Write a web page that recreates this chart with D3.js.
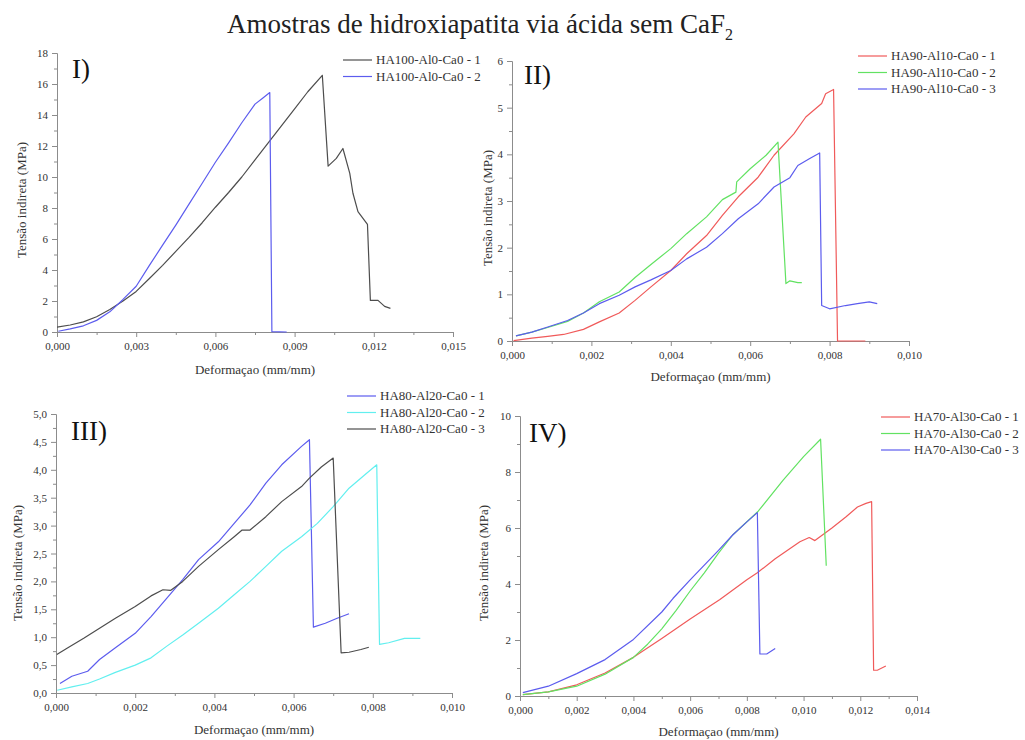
<!DOCTYPE html>
<html>
<head>
<meta charset="utf-8">
<script src="https://cdnjs.cloudflare.com/ajax/libs/d3/7.8.5/d3.min.js"></script>
<style>
    body { margin: 0; background: #fff; }
    svg text { font-family: "Liberation Serif", "Times New Roman", Times, serif !important; fill: #333; }
</style>
</head>
<body>
<div id="chart"></div>
<script>

// Panel I - HA100-Al0-Ca0
var namesI = ["HA100-Al0-Ca0 - 1", "HA100-Al0-Ca0 - 2"];
var ha100_1 = [[0, 0.32], [0.0005, 0.45], [0.001, 0.65], [0.0015, 0.98], [0.002, 1.45], [0.0025, 2.0],
    [0.003, 2.62], [0.0035, 3.45], [0.004, 4.3], [0.0045, 5.2], [0.005, 6.1], [0.0055, 7.05], [0.006, 8.05],
    [0.0065, 9.0], [0.007, 10.0], [0.0075, 11.1], [0.008, 12.2], [0.0085, 13.3], [0.009, 14.4], [0.0095, 15.5],
    [0.01005, 16.56], [0.01027, 10.7], [0.01058, 11.2], [0.01083, 11.84], [0.01109, 10.23], [0.01121, 8.95],
    [0.0114, 7.77], [0.01176, 6.95], [0.01187, 2.04], [0.01216, 2.04], [0.01241, 1.65], [0.01263, 1.52]];
var ha100_2 = [[0.00005, 0.05], [0.0005, 0.2], [0.001, 0.4], [0.0015, 0.75], [0.002, 1.3], [0.0025, 2.1],
    [0.003, 2.95], [0.0035, 4.3], [0.004, 5.6], [0.0045, 6.9], [0.005, 8.25], [0.0055, 9.6], [0.006, 10.95],
    [0.0065, 12.2], [0.007, 13.5], [0.0075, 14.7], [0.0078, 15.1], [0.00806, 15.45], [0.00814, 0.02], [0.0087, 0]];
var xTicksI = [0, 0.003, 0.006, 0.009, 0.012, 0.015];
var yTicksI = [0, 2, 4, 6, 8, 10, 12, 14, 16, 18];

// Panel II - HA90-Al10-Ca0
var namesII = ["HA90-Al10-Ca0 - 1", "HA90-Al10-Ca0 - 2", "HA90-Al10-Ca0 - 3"];
var ha90_1 = [[0.00004, 0.01], [0.0005, 0.06], [0.0009, 0.1], [0.0013, 0.14], [0.0018, 0.25], [0.0022, 0.41],
    [0.0027, 0.6], [0.0031, 0.87], [0.0035, 1.16], [0.004, 1.51], [0.0044, 1.87], [0.0049, 2.26], [0.0053, 2.69],
    [0.0057, 3.09], [0.0062, 3.51], [0.0066, 3.98], [0.0071, 4.44], [0.0074, 4.8], [0.0078, 5.09], [0.0079, 5.3],
    [0.0081, 5.39], [0.0082, 0], [0.0089, 0]];
var ha90_2 = [[0.0001, 0.11], [0.0005, 0.19], [0.0009, 0.29], [0.0014, 0.42], [0.0018, 0.6], [0.0022, 0.84],
    [0.0027, 1.05], [0.0031, 1.36], [0.0035, 1.64], [0.004, 1.98], [0.0044, 2.3], [0.0049, 2.66], [0.0053, 3.03],
    [0.00564, 3.19], [0.00566, 3.41], [0.006, 3.69], [0.0064, 3.98], [0.0067, 4.26], [0.0069, 1.23], [0.007, 1.29],
    [0.0072, 1.25], [0.0073, 1.25]];
var ha90_3 = [[0.0001, 0.11], [0.0005, 0.19], [0.0009, 0.3], [0.0014, 0.44], [0.0018, 0.6], [0.0022, 0.8],
    [0.0027, 0.98], [0.0031, 1.16], [0.0035, 1.31], [0.004, 1.51], [0.0044, 1.76], [0.0049, 2.01], [0.0053, 2.3],
    [0.0057, 2.62], [0.0062, 2.94], [0.0066, 3.3], [0.007, 3.5], [0.0072, 3.76], [0.0075, 3.91], [0.00775, 4.03],
    [0.0078, 0.76], [0.008, 0.69], [0.0084, 0.76], [0.0087, 0.8], [0.009, 0.84], [0.0092, 0.8]];
var xTicksII = [0, 0.002, 0.004, 0.006, 0.008, 0.010];
var yTicksII = [0, 1, 2, 3, 4, 5, 6];

// Panel III - HA80-Al20-Ca0
var namesIII = ["HA80-Al20-Ca0 - 1", "HA80-Al20-Ca0 - 2", "HA80-Al20-Ca0 - 3"];
var ha80_1 = [[0.0001, 0.17], [0.0004, 0.3], [0.0008, 0.39], [0.0011, 0.6], [0.0015, 0.81], [0.002, 1.07],
    [0.0024, 1.37], [0.0028, 1.7], [0.0032, 2.03], [0.0036, 2.39], [0.0041, 2.71], [0.0045, 3.04], [0.0049, 3.37],
    [0.0053, 3.76], [0.0057, 4.09], [0.0062, 4.42], [0.0064, 4.54], [0.0065, 1.18], [0.0068, 1.25], [0.0071, 1.34],
    [0.0074, 1.42]];
var ha80_2 = [[0.00003, 0.05], [0.0004, 0.11], [0.0008, 0.17], [0.0011, 0.25], [0.0015, 0.37], [0.002, 0.5],
    [0.0024, 0.63], [0.0028, 0.84], [0.0032, 1.04], [0.0036, 1.25], [0.0041, 1.52], [0.0045, 1.76], [0.0049, 2.0],
    [0.0053, 2.27], [0.0057, 2.54], [0.0062, 2.8], [0.0066, 3.04], [0.007, 3.34], [0.0074, 3.67], [0.0078, 3.91],
    [0.0081, 4.09], [0.00817, 0.87], [0.0084, 0.9], [0.0088, 0.98], [0.0092, 0.98]];
var ha80_3 = [[0.00002, 0.69], [0.0003, 0.81], [0.0007, 0.98], [0.0011, 1.16], [0.0015, 1.34], [0.002, 1.55],
    [0.0024, 1.74], [0.0027, 1.85], [0.0029, 1.84], [0.0032, 2.0], [0.0036, 2.27], [0.0041, 2.57], [0.0045, 2.8],
    [0.0047, 2.92], [0.0049, 2.92], [0.0053, 3.16], [0.0057, 3.43], [0.0062, 3.7], [0.0064, 3.85], [0.0067, 4.05],
    [0.007, 4.21], [0.0072, 0.72], [0.0074, 0.73], [0.0077, 0.78], [0.0079, 0.82]];
var xTicksIII = [0, 0.002, 0.004, 0.006, 0.008, 0.010];
var yTicksIII = [0, 0.5, 1, 1.5, 2, 2.5, 3, 3.5, 4, 4.5, 5];

// Panel IV - HA70-Al30-Ca0
var namesIV = ["HA70-Al30-Ca0 - 1", "HA70-Al30-Ca0 - 2", "HA70-Al30-Ca0 - 3"];
var ha70_1 = [[0.0001, 0.05], [0.001, 0.15], [0.002, 0.4], [0.003, 0.82], [0.004, 1.38], [0.005, 2.05],
    [0.006, 2.75], [0.00705, 3.45], [0.008, 4.15], [0.00837, 4.4], [0.009, 4.9], [0.00987, 5.51], [0.0102, 5.66],
    [0.0104, 5.55], [0.011, 6.0], [0.0115, 6.4], [0.0119, 6.75], [0.0122, 6.88], [0.0124, 6.94], [0.01247, 0.92],
    [0.0126, 0.92], [0.0129, 1.07]];
var ha70_2 = [[0.0001, 0.05], [0.001, 0.15], [0.002, 0.35], [0.003, 0.78], [0.004, 1.38], [0.0045, 1.85],
    [0.005, 2.4], [0.0055, 3.05], [0.006, 3.75], [0.0065, 4.4], [0.007, 5.1], [0.0075, 5.75], [0.0084, 6.6],
    [0.00928, 7.71], [0.01, 8.55], [0.0106, 9.17], [0.0108, 4.65]];
var ha70_3 = [[0.0001, 0.12], [0.001, 0.35], [0.002, 0.8], [0.003, 1.3], [0.004, 2.02], [0.005, 3.0],
    [0.0054, 3.49], [0.006, 4.15], [0.007, 5.2], [0.0075, 5.75], [0.008, 6.22], [0.00837, 6.55], [0.00846, 1.5],
    [0.0087, 1.5], [0.009, 1.7]];
var xTicksIV = [0, 0.002, 0.004, 0.006, 0.008, 0.010, 0.012, 0.014];
var yTicksIV = [0, 2, 4, 6, 8, 10];

var mainTitle = "Amostras de hidroxiapatita via ácida sem CaF";
var xTitle = "Deformaçao (mm/mm)";
var yTitle = "Tensão indireta (MPa)";

var serif = "'Liberation Serif', 'Times New Roman', Times, serif";

//Origin-like colours
var colBlack = "#4d4d4d",
    colBlue = "#5c5cee",
    colRed = "#f05a5a",
    colGreen = "#62e262",
    colCyan = "#62efef";

//Comma as decimal separator
var locale = d3.formatLocale({decimal: ",", thousands: ".", grouping: [3], currency: ["", ""]});

var panels = [
    {label: "I)", names: namesI, series: [ha100_1, ha100_2], colors: [colBlack, colBlue],
     xTicks: xTicksI, yTicks: yTicksI, xDec: 3, yDec: 0,
     left: 57, right: 453, top: 53, bottom: 332,
     labelPos: [72, 78], legendPos: [343, 60], yTitlePos: [26, 200], xTitleY: 374},
    {label: "II)", names: namesII, series: [ha90_1, ha90_2, ha90_3], colors: [colRed, colGreen, colBlue],
     xTicks: xTicksII, yTicks: yTicksII, xDec: 3, yDec: 0,
     left: 512, right: 909, top: 61, bottom: 341,
     labelPos: [524, 84], legendPos: [858, 56], yTitlePos: [492, 208], xTitleY: 381},
    {label: "III)", names: namesIII, series: [ha80_1, ha80_2, ha80_3], colors: [colBlue, colCyan, colBlack],
     xTicks: xTicksIII, yTicks: yTicksIII, xDec: 3, yDec: 1,
     left: 56, right: 452, top: 414, bottom: 693,
     labelPos: [71, 440], legendPos: [347, 396], yTitlePos: [22, 563], xTitleY: 734},
    {label: "IV)", names: namesIV, series: [ha70_1, ha70_2, ha70_3], colors: [colRed, colGreen, colBlue],
     xTicks: xTicksIV, yTicks: yTicksIV, xDec: 3, yDec: 0,
     left: 520, right: 917, top: 416, bottom: 696,
     labelPos: [529, 442], legendPos: [881, 417], yTitlePos: [488, 563], xTitleY: 736}
];

var svg = d3.select("#chart").append("svg")
    .attr("width", 1025)
    .attr("height", 740)
    .attr("font-family", serif)
    .style("background", "#fff");

//Main title with subscript
var title = svg.append("text")
    .attr("x", 480)
    .attr("y", 33)
    .attr("text-anchor", "middle")
    .style("font-family", serif)
    .style("font-size", "27px")
    .style("fill", "#222")
    .text(mainTitle);
title.append("tspan")
    .attr("dy", 7)
    .style("font-size", "16px")
    .text("2");

panels.forEach(drawPanel);

function drawPanel(p) {

    var xMax = p.xTicks[p.xTicks.length - 1],
        yMax = p.yTicks[p.yTicks.length - 1];

    var x = d3.scaleLinear().domain([0, xMax]).range([p.left, p.right]);
    var y = d3.scaleLinear().domain([0, yMax]).range([p.bottom, p.top]);

    //minor ticks halfway between majors
    var xMinor = d3.pairs(p.xTicks).map(function (d) { return (d[0] + d[1]) / 2; });
    var yMinor = d3.pairs(p.yTicks).map(function (d) { return (d[0] + d[1]) / 2; });

    var g = svg.append("g");

    g.append("g")
        .attr("transform", "translate(0," + p.bottom + ")")
        .call(d3.axisBottom(x).tickValues(xMinor).tickFormat("").tickSize(3).tickSizeOuter(0))
        .call(styleAxis);
    g.append("g")
        .attr("transform", "translate(0," + p.bottom + ")")
        .call(d3.axisBottom(x).tickValues(p.xTicks).tickFormat(locale.format("." + p.xDec + "f"))
            .tickSize(5).tickSizeOuter(0).tickPadding(5))
        .call(styleAxis);

    g.append("g")
        .attr("transform", "translate(" + p.left + ",0)")
        .call(d3.axisLeft(y).tickValues(yMinor).tickFormat("").tickSize(3).tickSizeOuter(0))
        .call(styleAxis);
    g.append("g")
        .attr("transform", "translate(" + p.left + ",0)")
        .call(d3.axisLeft(y).tickValues(p.yTicks).tickFormat(locale.format("." + p.yDec + "f"))
            .tickSize(5).tickSizeOuter(0).tickPadding(4))
        .call(styleAxis);

    //axis titles
    g.append("text")
        .attr("x", (p.left + p.right) / 2)
        .attr("y", p.xTitleY)
        .attr("text-anchor", "middle")
        .style("font-family", serif)
        .style("font-size", "13px")
        .text(xTitle);
    g.append("text")
        .attr("transform", "translate(" + p.yTitlePos[0] + "," + p.yTitlePos[1] + ") rotate(-90)")
        .attr("text-anchor", "middle")
        .style("font-family", serif)
        .style("font-size", "13px")
        .text(yTitle);

    //curves
    var line = d3.line()
        .x(function (d) { return x(d[0]); })
        .y(function (d) { return y(d[1]); });

    g.selectAll(".curve").data(p.series).enter()
        .append("path")
        .attr("class", "curve")
        .attr("d", line)
        .style("fill", "none")
        .style("stroke", function (d, i) { return p.colors[i]; })
        .style("stroke-width", 1.2)
        .style("stroke-linejoin", "round");

    //panel label
    g.append("text")
        .attr("x", p.labelPos[0])
        .attr("y", p.labelPos[1])
        .style("font-family", serif)
        .style("font-size", "27px")
        .style("fill", "#111")
        .text(p.label);

    //legend
    var leg = g.selectAll(".legend").data(p.names).enter()
        .append("g")
        .attr("class", "legend")
        .attr("transform", function (d, i) {
            return "translate(" + p.legendPos[0] + "," + (p.legendPos[1] + i * 16.5) + ")";
        });
    leg.append("line")
        .attr("x1", 0).attr("x2", 29)
        .style("stroke", function (d, i) { return p.colors[i]; })
        .style("stroke-width", 1.2);
    leg.append("text")
        .attr("x", 33)
        .attr("dy", "0.33em")
        .style("font-family", serif)
        .style("font-size", "13px")
        .text(function (d) { return d; });
}

function styleAxis(a) {
    a.attr("font-family", serif).attr("font-size", null);
    a.select(".domain").style("stroke", "#8c8c8c");
    a.selectAll(".tick line").style("stroke", "#8c8c8c");
    a.selectAll(".tick text")
        .style("font-family", serif)
        .style("font-size", "11px")
        .style("fill", "#333");
}

</script>
</body>
</html>
